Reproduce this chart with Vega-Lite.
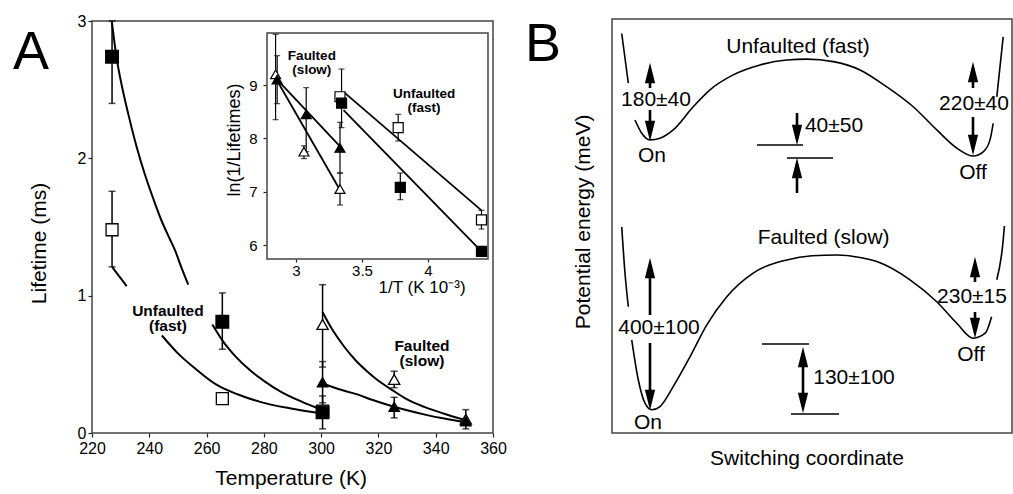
{
"$schema":"https://vega.github.io/schema/vega-lite/v6.json",
"width":1013,"height":494,"autosize":{"type":"none"},"padding":0,"background":"white",
"config":{"view":{"stroke":null},"font":"Liberation Sans","axis":{"grid":false,"domain":false,"labelFont":"Liberation Sans","labelColor":"black","tickColor":"#222","tickWidth":1.2,"labelFlush":false,"labelOverlap":false,"labelBound":false}},
"datasets":{
"mainErr":[
{"x":227,"lo":2.40,"hi":3.0},{"x":265.5,"lo":0.61,"hi":1.02},{"x":300.5,"lo":0.03,"hi":0.27},
{"x":227,"lo":1.21,"hi":1.76},{"x":300.5,"lo":0.48,"hi":1.08},{"x":325.5,"lo":0.33,"hi":0.45},
{"x":300.5,"lo":0.22,"hi":0.52},{"x":325.5,"lo":0.11,"hi":0.26},{"x":350.5,"lo":0.03,"hi":0.17}],
"mainPts":[
{"x":227,"y":1.48,"series":"uf_open"},{"x":265.5,"y":0.25,"series":"uf_open"},{"x":300.5,"y":0.16,"series":"uf_open"},
{"x":227,"y":2.74,"series":"uf_filled"},{"x":265.5,"y":0.81,"series":"uf_filled"},{"x":300.5,"y":0.15,"series":"uf_filled"},
{"x":300.5,"y":0.79,"series":"f_open"},{"x":325.5,"y":0.39,"series":"f_open"},{"x":350.5,"y":0.10,"series":"f_open"},
{"x":300.5,"y":0.37,"series":"f_filled"},{"x":325.5,"y":0.19,"series":"f_filled"},{"x":350.5,"y":0.085,"series":"f_filled"}],
"mainCurves":[
{"x":226.9,"y":3.0,"c":"c1"},{"x":228.6,"y":2.73,"c":"c1"},{"x":230.5,"y":2.52,"c":"c1"},{"x":232.7,"y":2.32,"c":"c1"},{"x":235.5,"y":2.09,"c":"c1"},{"x":238.5,"y":1.88,"c":"c1"},{"x":241.5,"y":1.70,"c":"c1"},{"x":244.4,"y":1.54,"c":"c1"},{"x":247,"y":1.42,"c":"c1"},{"x":249,"y":1.33,"c":"c1"},{"x":251.3,"y":1.20,"c":"c1"},{"x":253.6,"y":1.08,"c":"c1"},
{"x":227,"y":1.21,"c":"c2a"},{"x":229.5,"y":1.14,"c":"c2a"},{"x":232.1,"y":1.07,"c":"c2a"},
{"x":244.4,"y":0.71,"c":"c2b"},{"x":250,"y":0.58,"c":"c2b"},{"x":256,"y":0.47,"c":"c2b"},{"x":263.6,"y":0.35,"c":"c2b"},{"x":271,"y":0.28,"c":"c2b"},{"x":279,"y":0.225,"c":"c2b"},{"x":289,"y":0.18,"c":"c2b"},{"x":299.5,"y":0.145,"c":"c2b"},
{"x":262,"y":0.79,"c":"c3"},{"x":266,"y":0.66,"c":"c3"},{"x":270,"y":0.56,"c":"c3"},{"x":275,"y":0.46,"c":"c3"},{"x":280,"y":0.38,"c":"c3"},{"x":286,"y":0.30,"c":"c3"},{"x":293,"y":0.23,"c":"c3"},{"x":300,"y":0.17,"c":"c3"},
{"x":300.5,"y":0.88,"c":"c4"},{"x":304,"y":0.75,"c":"c4"},{"x":308,"y":0.63,"c":"c4"},{"x":312,"y":0.53,"c":"c4"},{"x":316,"y":0.45,"c":"c4"},{"x":320,"y":0.38,"c":"c4"},{"x":325,"y":0.31,"c":"c4"},{"x":330,"y":0.245,"c":"c4"},{"x":336,"y":0.19,"c":"c4"},{"x":343,"y":0.14,"c":"c4"},{"x":350,"y":0.095,"c":"c4"},
{"x":300.5,"y":0.36,"c":"c5"},{"x":306,"y":0.32,"c":"c5"},{"x":312,"y":0.285,"c":"c5"},{"x":318,"y":0.24,"c":"c5"},{"x":324,"y":0.20,"c":"c5"},{"x":330,"y":0.165,"c":"c5"},{"x":337,"y":0.13,"c":"c5"},{"x":343,"y":0.105,"c":"c5"},{"x":350,"y":0.08,"c":"c5"}],
"mainLabels":[{"x":246.5,"y":0.89,"text":"Unfaulted\n(fast)"},{"x":335.2,"y":0.63,"text":"Faulted\n(slow)"}],
"mainTitleX":[{"x":289.5,"y":-0.335,"text":"Temperature (K)"}],
"mainTitleY":[{"x":201.8,"y":1.38,"text":"Lifetime (ms)"}],
"letterA":[{"x":198.7,"y":2.77,"text":"A"}],
"insetErr":[
{"x":2.845,"lo":8.35,"hi":9.95},{"x":2.857,"lo":8.65,"hi":9.55},{"x":3.077,"lo":7.75,"hi":8.95},{"x":3.06,"lo":7.62,"hi":7.86},
{"x":3.333,"lo":6.75,"hi":7.35},{"x":3.333,"lo":7.35,"hi":8.3},{"x":3.345,"lo":8.2,"hi":9.3},{"x":3.774,"lo":7.95,"hi":8.45},
{"x":3.79,"lo":6.85,"hi":7.35},{"x":4.405,"lo":6.3,"hi":6.65}],
"insetPts":[
{"x":2.845,"y":9.2,"series":"f_open"},{"x":3.06,"y":7.75,"series":"f_open"},{"x":3.333,"y":7.05,"series":"f_open"},
{"x":2.857,"y":9.1,"series":"f_filled"},{"x":3.077,"y":8.45,"series":"f_filled"},{"x":3.333,"y":7.82,"series":"f_filled"},
{"x":3.333,"y":8.78,"series":"uf_open"},{"x":3.774,"y":8.2,"series":"uf_open"},{"x":4.405,"y":6.47,"series":"uf_open"},
{"x":3.345,"y":8.66,"series":"uf_filled"},{"x":3.79,"y":7.08,"series":"uf_filled"},{"x":4.405,"y":5.88,"series":"uf_filled"}],
"insetLines":[
{"x":2.857,"y":9.08,"c":"a"},{"x":3.333,"y":7.03,"c":"a"},
{"x":2.857,"y":9.1,"c":"b"},{"x":3.333,"y":7.85,"c":"b"},
{"x":3.36,"y":8.87,"c":"c"},{"x":4.405,"y":6.65,"c":"c"},
{"x":3.36,"y":8.53,"c":"d"},{"x":4.405,"y":5.88,"c":"d"}],
"insetLabels":[{"x":3.12,"y":9.535,"text":"Faulted\n(slow)"},{"x":3.97,"y":8.83,"text":"Unfaulted\n(fast)"}],
"insetTitleX":[{"x":3.955,"y":5.2,"text":"1/T (K 10⁻³)"}],
"insetTitleY":[{"x":2.538,"y":7.97,"text":"ln(1/Lifetimes)"}],
"bCurves":[
{"x":2.43,"y":96.5,"c":"u1"},{"x":4.08,"y":84.5,"c":"u1"},
{"x":5.75,"y":75.6,"c":"u2"},{"x":7.43,"y":72.4,"c":"u2"},{"x":9.5,"y":70.8,"c":"u2"},{"x":12,"y":71.2,"c":"u2"},{"x":15.3,"y":73.2,"c":"u2"},{"x":20.3,"y":78.8,"c":"u2"},{"x":24.5,"y":82.9,"c":"u2"},{"x":30.3,"y":86.5,"c":"u2"},{"x":37,"y":88.9,"c":"u2"},{"x":43.7,"y":90.1,"c":"u2"},{"x":48.7,"y":90.3,"c":"u2"},{"x":55.3,"y":89.7,"c":"u2"},{"x":62,"y":87.7,"c":"u2"},{"x":68.7,"y":83.6,"c":"u2"},{"x":75.3,"y":78.8,"c":"u2"},{"x":81.2,"y":73.2,"c":"u2"},{"x":86.2,"y":68.8,"c":"u2"},{"x":90.3,"y":66.9,"c":"u2"},{"x":92.8,"y":67.9,"c":"u2"},{"x":94.5,"y":70.8,"c":"u2"},{"x":95.3,"y":74.8,"c":"u2"},
{"x":96.2,"y":81.2,"c":"u3"},{"x":97,"y":88.5,"c":"u3"},{"x":97.8,"y":95.7,"c":"u3"},
{"x":2.43,"y":49.8,"c":"f1"},{"x":3.25,"y":38.6,"c":"f1"},{"x":4.08,"y":30.5,"c":"f1"},
{"x":4.93,"y":22.5,"c":"f2"},{"x":6.58,"y":12.8,"c":"f2"},{"x":8.25,"y":7.2,"c":"f2"},{"x":9.93,"y":5.6,"c":"f2"},{"x":12,"y":6.4,"c":"f2"},{"x":15.3,"y":11.2,"c":"f2"},{"x":19.5,"y":18.4,"c":"f2"},{"x":23.7,"y":26.1,"c":"f2"},{"x":28.7,"y":32.9,"c":"f2"},{"x":35.3,"y":38.6,"c":"f2"},{"x":43.7,"y":41.8,"c":"f2"},{"x":50,"y":42.8,"c":"f2"},{"x":56.2,"y":43,"c":"f2"},{"x":62,"y":42.4,"c":"f2"},{"x":66.2,"y":41.4,"c":"f2"},{"x":74.5,"y":37,"c":"f2"},{"x":81.2,"y":31.7,"c":"f2"},{"x":86.2,"y":26.5,"c":"f2"},{"x":90.3,"y":22.9,"c":"f2"},{"x":93.3,"y":24.1,"c":"f2"},{"x":94.9,"y":28.1,"c":"f2"},
{"x":96.2,"y":37,"c":"f3"},{"x":97.8,"y":46.6,"c":"f3"},{"x":98.1,"y":50,"c":"f3"}],
"bShafts":[
{"x":9.5,"y":83.33,"y2":87.2},{"x":9.5,"y":78.02,"y2":72.71},{"x":90.25,"y":83.33,"y2":87.2},{"x":90.25,"y":76.33,"y2":70.77},
{"x":46.25,"y":77.29,"y2":72.46},{"x":46.25,"y":57.97,"y2":63.53},{"x":9.5,"y":28.5,"y2":39.37},{"x":9.5,"y":21.74,"y2":8.45},
{"x":90.75,"y":36.47,"y2":40.1},{"x":90.75,"y":29.23,"y2":25.85},{"x":47.75,"y":18.36,"y2":7.25}],
"bHeads":[
{"x":9.5,"y":86.96,"dir":"up"},{"x":9.5,"y":72.95,"dir":"down"},{"x":90.25,"y":87.2,"dir":"up"},{"x":90.25,"y":69.57,"dir":"down"},
{"x":46.25,"y":72.0,"dir":"down"},{"x":46.25,"y":64.01,"dir":"up"},{"x":9.5,"y":39.86,"dir":"up"},{"x":9.5,"y":7.97,"dir":"down"},
{"x":90.75,"y":40.1,"dir":"up"},{"x":90.75,"y":25.36,"dir":"down"},{"x":47.75,"y":18.36,"dir":"up"},{"x":47.75,"y":7.25,"dir":"down"}],
"bLevels":[{"x":36.25,"x2":47.75,"y":69.57},{"x":43.75,"x2":55.25,"y":66.43},{"x":37.5,"x2":49.25,"y":21.5},{"x":44.75,"x2":56.75,"y":4.59}],
"bLabels":[
{"x":46.5,"y":93.2,"text":"Unfaulted (fast)"},{"x":52.9,"y":47.1,"text":"Faulted (slow)"},{"x":11,"y":80.4,"text":"180±40"},{"x":90.5,"y":79.5,"text":"220±40"},
{"x":55.5,"y":74.2,"text":"40±50"},{"x":10,"y":66.9,"text":"On"},{"x":90.25,"y":62.8,"text":"Off"},{"x":11.75,"y":25.4,"text":"400±100"},
{"x":90,"y":32.9,"text":"230±15"},{"x":60.5,"y":13.3,"text":"130±100"},{"x":9,"y":2.5,"text":"On"},{"x":89.75,"y":18.8,"text":"Off"}],
"bTitleX":[{"x":48.75,"y":-6.3,"text":"Switching coordinate"}],
"bTitleY":[{"x":-7,"y":51,"text":"Potential energy (meV)"}],
"letterB":[{"x":-17.25,"y":93.6,"text":"B"}]
},
"resolve":{"scale":{"x":"independent","y":"independent"},"axis":{"x":"independent","y":"independent"}},
"layer":[
{"layer":[
 {"data":{"values":[{}]},"mark":{"type":"rect","fill":"white","fillOpacity":0,"stroke":"#444","strokeWidth":1.5},
  "encoding":{
   "x":{"datum":220,"type":"quantitative","scale":{"domain":[220,360],"range":[92,493],"nice":false,"zero":false},"axis":{"orient":"bottom","offset":-61,"values":[220,240,260,280,300,320,340,360],"format":"d","tickSize":4,"labelPadding":3,"labelFontSize":16,"title":null}},
   "x2":{"datum":360},
   "y":{"datum":0,"type":"quantitative","scale":{"domain":[0,3],"range":[433,21],"nice":false,"zero":false},"axis":{"orient":"left","offset":-92,"values":[0,1,2,3],"format":"d","tickSize":4,"labelPadding":2,"labelFontSize":16,"title":null}},
   "y2":{"datum":3}}},
 {"data":{"name":"mainErr"},"mark":{"type":"rule","color":"black","strokeWidth":1.5},
  "encoding":{"x":{"field":"x","type":"quantitative"},"y":{"field":"lo","type":"quantitative"},"y2":{"field":"hi"}}},
 {"data":{"name":"mainErr"},"transform":[{"fold":["lo","hi"],"as":["end","y"]}],"mark":{"type":"tick","orient":"horizontal","color":"black","size":7,"thickness":1.5},
  "encoding":{"x":{"field":"x","type":"quantitative"},"y":{"field":"y","type":"quantitative"}}},
 {"data":{"name":"mainCurves"},"mark":{"type":"line","color":"black","strokeWidth":2,"interpolate":"monotone"},
  "encoding":{"x":{"field":"x","type":"quantitative"},"y":{"field":"y","type":"quantitative"},"detail":{"field":"c"}}},
 {"data":{"name":"mainPts"},"mark":{"type":"point","stroke":"black","strokeWidth":1.3,"opacity":1,"fillOpacity":1},
  "encoding":{"x":{"field":"x","type":"quantitative"},"y":{"field":"y","type":"quantitative"},
   "shape":{"field":"series","type":"nominal","scale":{"domain":["uf_filled","uf_open","f_open","f_filled"],"range":["square","square","triangle-up","triangle-up"]},"legend":null},
   "fill":{"field":"series","type":"nominal","scale":{"domain":["uf_filled","uf_open","f_open","f_filled"],"range":["black","white","white","black"]},"legend":null},
   "size":{"field":"series","type":"ordinal","scale":{"domain":["uf_filled","uf_open","f_open","f_filled"],"range":[160,110,150,150]},"legend":null}}},
 {"data":{"name":"mainLabels"},"mark":{"type":"text","fontSize":15.5,"fontWeight":"bold","lineBreak":"\n","lineHeight":15,"align":"center","baseline":"middle","color":"black"},
  "encoding":{"x":{"field":"x","type":"quantitative"},"y":{"field":"y","type":"quantitative"},"text":{"field":"text"}}},
 {"data":{"name":"mainTitleX"},"mark":{"type":"text","fontSize":21,"align":"center","baseline":"middle","color":"black"},
  "encoding":{"x":{"field":"x","type":"quantitative"},"y":{"field":"y","type":"quantitative"},"text":{"field":"text"}}},
 {"data":{"name":"mainTitleY"},"mark":{"type":"text","fontSize":21,"angle":270,"align":"center","baseline":"middle","color":"black"},
  "encoding":{"x":{"field":"x","type":"quantitative"},"y":{"field":"y","type":"quantitative"},"text":{"field":"text"}}},
 {"data":{"name":"letterA"},"mark":{"type":"text","fontSize":54,"align":"center","baseline":"middle","color":"black"},
  "encoding":{"x":{"field":"x","type":"quantitative"},"y":{"field":"y","type":"quantitative"},"text":{"field":"text"}}}
]},
{"layer":[
 {"data":{"values":[{}]},"mark":{"type":"rect","fill":"white","fillOpacity":1,"stroke":"#444","strokeWidth":1.5},
  "encoding":{
   "x":{"datum":2.78,"type":"quantitative","scale":{"domain":[2.78,4.4545],"range":[267,488],"nice":false,"zero":false},"axis":{"orient":"bottom","offset":-235,"values":[3,3.5,4],"format":"~g","tickSize":3,"labelPadding":1,"labelFontSize":15,"title":null}},
   "x2":{"datum":4.4545},
   "y":{"datum":5.7375,"type":"quantitative","scale":{"domain":[5.7375,9.975],"range":[259,33],"nice":false,"zero":false},"axis":{"orient":"left","offset":-267,"values":[6,7,8,9],"format":"d","tickSize":4,"labelPadding":6,"labelFontSize":15,"title":null}},
   "y2":{"datum":9.975}}},
 {"data":{"name":"insetErr"},"mark":{"type":"rule","color":"black","strokeWidth":1.2},
  "encoding":{"x":{"field":"x","type":"quantitative"},"y":{"field":"lo","type":"quantitative"},"y2":{"field":"hi"}}},
 {"data":{"name":"insetErr"},"transform":[{"fold":["lo","hi"],"as":["end","y"]}],"mark":{"type":"tick","orient":"horizontal","color":"black","size":6,"thickness":1.2},
  "encoding":{"x":{"field":"x","type":"quantitative"},"y":{"field":"y","type":"quantitative"}}},
 {"data":{"name":"insetLines"},"mark":{"type":"line","color":"black","strokeWidth":1.8},
  "encoding":{"x":{"field":"x","type":"quantitative"},"y":{"field":"y","type":"quantitative"},"detail":{"field":"c"}}},
 {"data":{"name":"insetPts"},"mark":{"type":"point","stroke":"black","strokeWidth":1.2,"opacity":1,"fillOpacity":1,"size":100},
  "encoding":{"x":{"field":"x","type":"quantitative"},"y":{"field":"y","type":"quantitative"},
   "shape":{"field":"series","type":"nominal","legend":null},
   "fill":{"field":"series","type":"nominal","legend":null}}},
 {"data":{"name":"insetLabels"},"mark":{"type":"text","fontSize":13.5,"fontWeight":"bold","lineBreak":"\n","lineHeight":14,"align":"center","baseline":"middle","color":"black"},
  "encoding":{"x":{"field":"x","type":"quantitative"},"y":{"field":"y","type":"quantitative"},"text":{"field":"text"}}},
 {"data":{"name":"insetTitleX"},"mark":{"type":"text","fontSize":17,"align":"center","baseline":"middle","color":"black"},
  "encoding":{"x":{"field":"x","type":"quantitative"},"y":{"field":"y","type":"quantitative"},"text":{"field":"text"}}},
 {"data":{"name":"insetTitleY"},"mark":{"type":"text","fontSize":18,"angle":270,"align":"center","baseline":"middle","color":"black"},
  "encoding":{"x":{"field":"x","type":"quantitative"},"y":{"field":"y","type":"quantitative"},"text":{"field":"text"}}}
]},
{"layer":[
 {"data":{"values":[{}]},"mark":{"type":"rect","fill":"white","fillOpacity":0,"stroke":"#444","strokeWidth":1.5},
  "encoding":{
   "x":{"datum":0,"type":"quantitative","scale":{"domain":[0,100],"range":[612,1012],"nice":false,"zero":false},"axis":null},
   "x2":{"datum":100},
   "y":{"datum":0,"type":"quantitative","scale":{"domain":[0,100],"range":[433,19],"nice":false,"zero":false},"axis":null},
   "y2":{"datum":100}}},
 {"data":{"name":"bCurves"},"mark":{"type":"line","color":"black","strokeWidth":1.6,"interpolate":"monotone"},
  "encoding":{"x":{"field":"x","type":"quantitative","axis":null},"y":{"field":"y","type":"quantitative","axis":null},"detail":{"field":"c"}}},
 {"data":{"name":"bShafts"},"mark":{"type":"rule","color":"black","strokeWidth":2.6},
  "encoding":{"x":{"field":"x","type":"quantitative","axis":null},"y":{"field":"y","type":"quantitative","axis":null},"y2":{"field":"y2"}}},
 {"data":{"name":"bLevels"},"mark":{"type":"rule","color":"black","strokeWidth":1.6},
  "encoding":{"x":{"field":"x","type":"quantitative","axis":null},"x2":{"field":"x2"},"y":{"field":"y","type":"quantitative","axis":null}}},
 {"data":{"name":"bHeads"},"transform":[{"filter":"datum.dir === 'up'"}],"mark":{"type":"point","shape":"M-0.5,1L0,-1L0.5,1Z","filled":true,"fill":"black","stroke":null,"size":420,"opacity":1},
  "encoding":{"x":{"field":"x","type":"quantitative","axis":null},"y":{"field":"y","type":"quantitative","axis":null}}},
 {"data":{"name":"bHeads"},"transform":[{"filter":"datum.dir === 'down'"}],"mark":{"type":"point","shape":"M-0.5,-1L0,1L0.5,-1Z","filled":true,"fill":"black","stroke":null,"size":420,"opacity":1},
  "encoding":{"x":{"field":"x","type":"quantitative","axis":null},"y":{"field":"y","type":"quantitative","axis":null}}},
 {"data":{"name":"bLabels"},"mark":{"type":"text","fontSize":21,"align":"center","baseline":"middle","color":"black"},
  "encoding":{"x":{"field":"x","type":"quantitative","axis":null},"y":{"field":"y","type":"quantitative","axis":null},"text":{"field":"text"}}},
 {"data":{"name":"bTitleX"},"mark":{"type":"text","fontSize":21,"align":"center","baseline":"middle","color":"black"},
  "encoding":{"x":{"field":"x","type":"quantitative","axis":null},"y":{"field":"y","type":"quantitative","axis":null},"text":{"field":"text"}}},
 {"data":{"name":"bTitleY"},"mark":{"type":"text","fontSize":21,"angle":270,"align":"center","baseline":"middle","color":"black"},
  "encoding":{"x":{"field":"x","type":"quantitative","axis":null},"y":{"field":"y","type":"quantitative","axis":null},"text":{"field":"text"}}},
 {"data":{"name":"letterB"},"mark":{"type":"text","fontSize":54,"align":"center","baseline":"middle","color":"black"},
  "encoding":{"x":{"field":"x","type":"quantitative","axis":null},"y":{"field":"y","type":"quantitative","axis":null},"text":{"field":"text"}}}
]}
]
}
